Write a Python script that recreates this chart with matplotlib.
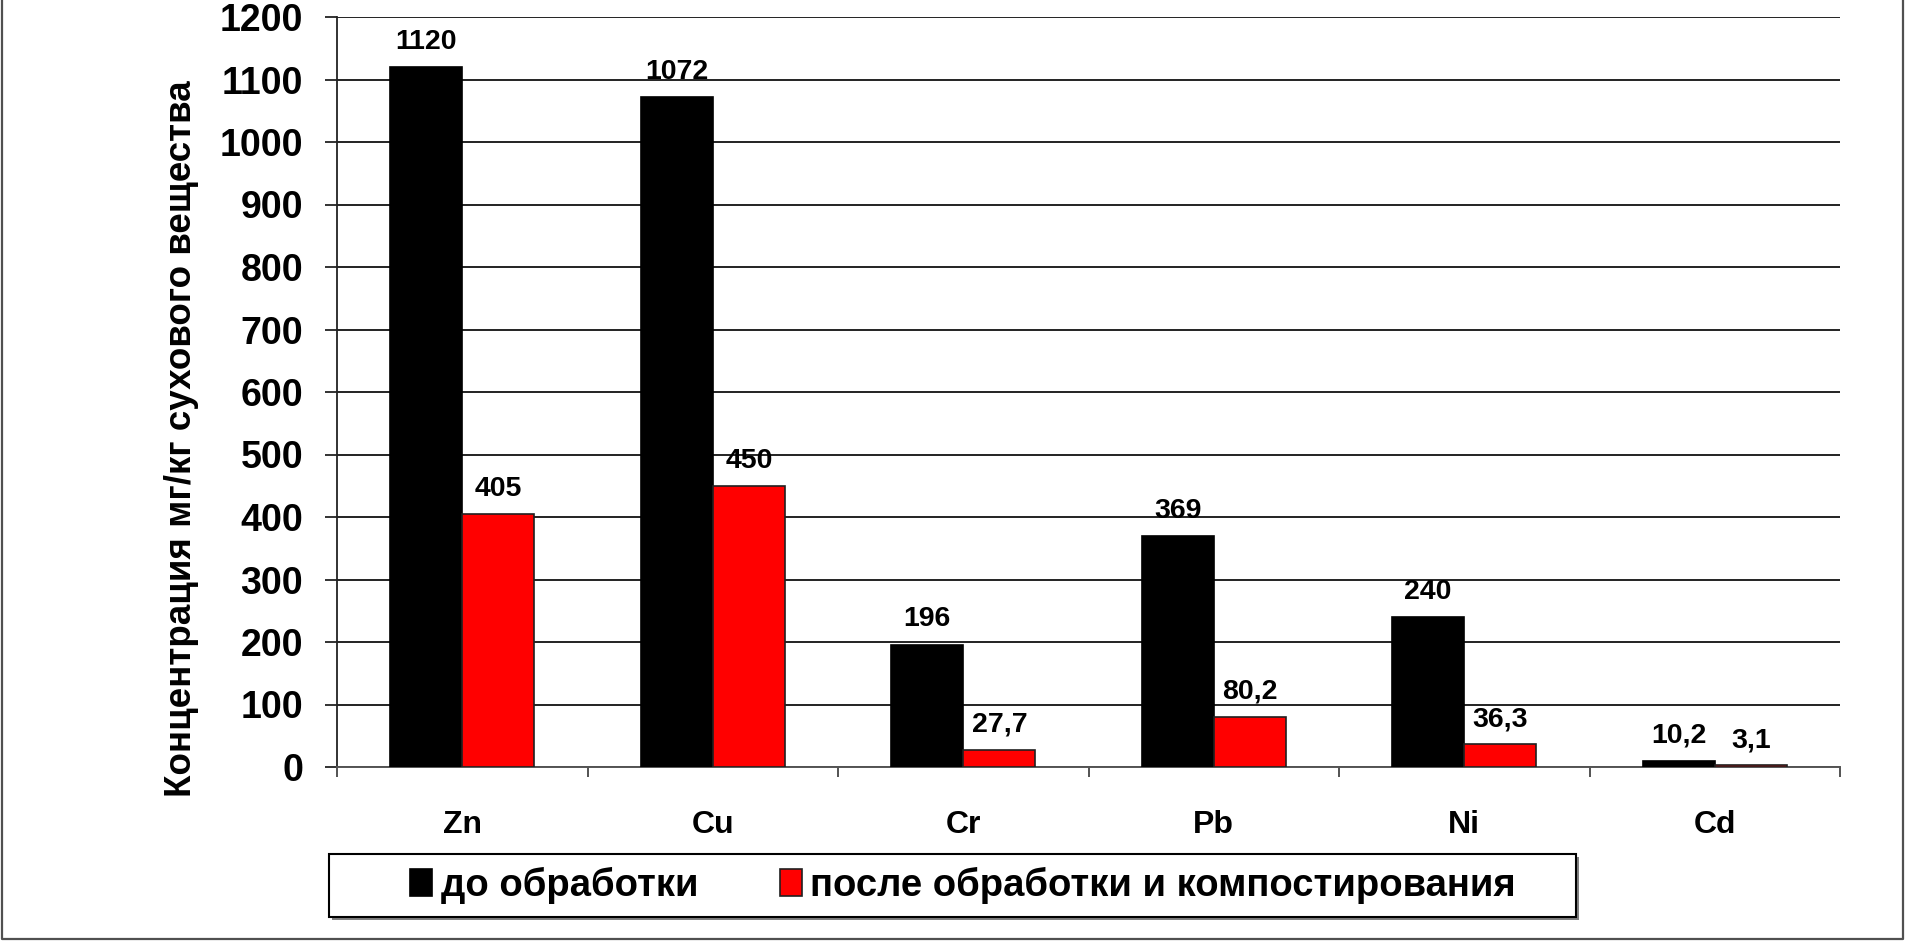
import matplotlib
matplotlib.use("Agg")
import matplotlib.pyplot as plt
from matplotlib.patches import Rectangle
from matplotlib.lines import Line2D
import numpy as np

plt.rcParams['font.family'] = ['Liberation Sans', 'DejaVu Sans']
plt.rcParams['font.weight'] = 'bold'

# data
metals = ['Zn', 'Cu', 'Cr', 'Pb', 'Ni', 'Cd']
before = [1120, 1072, 196, 369, 240, 10.2]
after = [405, 450, 27.7, 80.2, 36.3, 3.1]
series_names = ['до обработки', 'после обработки и компостирования']
y_label = 'Концентрация мг/кг сухового вещества'
y_ticks = list(range(0, 1201, 100))

W, H = 1905, 942
fig = plt.figure(figsize=(W / 100, H / 100), dpi=100)
ax = fig.add_axes([337 / W, (H - 767) / H, 1503 / W, 750 / H])

x = np.arange(len(metals))
w = 0.288
b1 = ax.bar(x - w / 2, before, w, color='black', edgecolor='black', linewidth=1.2,
            label=series_names[0], zorder=3)
b2 = ax.bar(x + w / 2, after, w, color='#ff0000', edgecolor='#202020', linewidth=1.2,
            label=series_names[1], zorder=3)

def fmt(v):
    return f"{v:g}".replace('.', ',')

for bars, vals in ((b1, before), (b2, after)):
    for r, v in zip(bars, vals):
        ax.annotate(fmt(v), (r.get_x() + r.get_width() / 2, r.get_height()),
                    xytext=(0, 13), textcoords='offset points',
                    ha='center', va='baseline', fontsize=20.5, fontweight='bold')

ax.set_xlim(-0.5, len(metals) - 0.5)
ax.set_ylim(0, 1200)
ax.set_yticks(y_ticks)
ax.tick_params(axis='y', length=8.6, width=1.3, pad=15.8, labelsize=27, color='#222222')
ax.yaxis.grid(True, color='#222222', linewidth=1.4, zorder=0)
ax.set_axisbelow(True)

# boundaries get tick marks, centres get the labels
ax.set_xticks(np.arange(-0.5, len(metals), 1.0))
ax.set_xticklabels([])
ax.set_xticks(x, minor=True)
ax.set_xticklabels(metals, minor=True)
ax.tick_params(axis='x', which='major', length=7.2, width=1.3, color='#444444')
ax.tick_params(axis='x', which='minor', length=0, pad=31, labelsize=23)

for s in ('top', 'right'):
    ax.spines[s].set_visible(False)
ax.spines['left'].set_color('#222222')
ax.spines['left'].set_linewidth(1.3)
ax.spines['bottom'].set_color('#555555')
ax.spines['bottom'].set_linewidth(1.4)

ax.set_ylabel(y_label, fontsize=26.5, fontweight='bold')
ax.yaxis.set_label_coords(-0.0918, 0.438)

# legend frame with a small shadow
lx0, lx1, ly0, ly1 = 329, 1576, 854, 917
fig.patches.append(Rectangle(((lx0 + 3) / W, (H - ly1 - 3) / H), (lx1 - lx0) / W, (ly1 - ly0) / H,
                             transform=fig.transFigure, facecolor='#808080', edgecolor='none', zorder=1))
fig.patches.append(Rectangle((lx0 / W, (H - ly1) / H), (lx1 - lx0) / W, (ly1 - ly0) / H,
                             transform=fig.transFigure, facecolor='white', edgecolor='black',
                             linewidth=1.5, zorder=2))
fig.legend(handles=[b1, b2], loc='center', ncol=2, mode='expand', frameon=False,
           bbox_to_anchor=(410 / W, (H - 905) / H, (1516 - 410) / W, 40 / H),
           borderpad=0, borderaxespad=0, handlelength=0.58,
           handletextpad=0.22, prop={'weight': 'bold', 'size': 27.5})

# outer chart border (top edge is cut off in the source)
fig.lines.append(Line2D([1.5 / W, 1.5 / W, (W - 2) / W, (W - 2) / W],
                        [1, 3 / H, 3 / H, 1], transform=fig.transFigure,
                        color='#505050', linewidth=1.6))

fig.savefig('out.png', dpi=100)
